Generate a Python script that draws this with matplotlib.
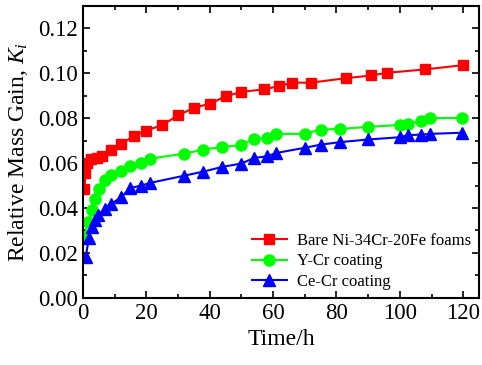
import numpy as np
import matplotlib
matplotlib.use("Agg")
import matplotlib.pyplot as plt
from matplotlib.ticker import MultipleLocator

plt.rcParams['font.family'] = ['Liberation Serif', 'DejaVu Serif']
plt.rcParams['mathtext.fontset'] = 'custom'
plt.rcParams['mathtext.rm'] = 'Liberation Serif'
plt.rcParams['mathtext.it'] = 'Liberation Serif:italic'

# data
t_bare = [0.5, 0.8, 1.4, 2.7, 4.3, 6.1, 9, 12, 16, 20, 25, 30, 35, 40, 45, 50,
          57, 62, 66, 72, 83, 91, 96, 108, 120]
k_bare = [0.0486, 0.0556, 0.0600, 0.0616, 0.0623, 0.0633, 0.0657, 0.0684, 0.0720,
          0.0745, 0.0769, 0.0812, 0.0846, 0.0864, 0.0897, 0.0917, 0.0928, 0.0943,
          0.0958, 0.0958, 0.0978, 0.0990, 0.1002, 0.1017, 0.1036]

t_y = [0.5, 1.7, 2.9, 3.9, 5, 7, 9, 12, 15, 18.4, 21.3, 32, 38, 44, 50, 54, 58,
       61, 70, 75, 81, 90, 100, 102.5, 106.7, 109.5, 119.5]
k_y = [0.0273, 0.0338, 0.0390, 0.0440, 0.0486, 0.0523, 0.0546, 0.0563, 0.0589,
       0.0600, 0.0620, 0.0642, 0.0660, 0.0672, 0.0680, 0.0709, 0.0712, 0.0730,
       0.0730, 0.0749, 0.0752, 0.0761, 0.0770, 0.0775, 0.0788, 0.0800, 0.0801]

t_ce = [0.9, 1.9, 2.9, 3.8, 4.8, 7, 9, 12, 15, 18.4, 21.3, 32, 38, 44, 50, 54, 58,
        61, 70, 75, 81, 90, 100, 102.5, 106.7, 109.5, 119.5]
k_ce = [0.0184, 0.0266, 0.0315, 0.0348, 0.0370, 0.0397, 0.0419, 0.0447, 0.0489,
        0.0500, 0.0512, 0.0544, 0.0562, 0.0583, 0.0598, 0.0623, 0.0630, 0.0645,
        0.0668, 0.0682, 0.0693, 0.0705, 0.0715, 0.0724, 0.0727, 0.0730, 0.0735]

fig = plt.figure(figsize=(4.82, 3.65), dpi=100)
ax = fig.add_axes([0.172, 0.184, 0.822, 0.8])

ax.plot(t_bare, k_bare, '-s', color='#ff0000', ms=7, lw=1.5, label='Bare Ni-34Cr-20Fe foams')
ax.plot(t_y, k_y, '-o', color='#00ff00', ms=8, lw=1.5, label='Y-Cr coating')
ax.plot(t_ce, k_ce, '-^', color='#0000ff', ms=8, lw=1.5, label='Ce-Cr coating')

ax.set_xlim(0, 125)
ax.set_ylim(0, 0.13)
ax.xaxis.set_major_locator(MultipleLocator(20))
ax.xaxis.set_minor_locator(MultipleLocator(10))
ax.yaxis.set_major_locator(MultipleLocator(0.02))
ax.yaxis.set_minor_locator(MultipleLocator(0.01))
ax.yaxis.set_major_formatter(matplotlib.ticker.FormatStrFormatter('%.2f'))
ax.tick_params(which='both', direction='in', top=True, right=True, labelsize=16.5, width=1.2)
ax.tick_params(which='major', length=5)
ax.tick_params(which='minor', length=3)
for s in ax.spines.values():
    s.set_linewidth(1.5)

ax.set_xlabel('Time/h', fontsize=17)
ax.set_ylabel(r'Relative Mass Gain, $K_i$', fontsize=17, labelpad=6)

ax.legend(loc='lower right', frameon=False, fontsize=12, handlelength=2.1,
          labelspacing=0.25, borderaxespad=0.1, handletextpad=0.6)

fig.savefig('out.png', dpi=100)
